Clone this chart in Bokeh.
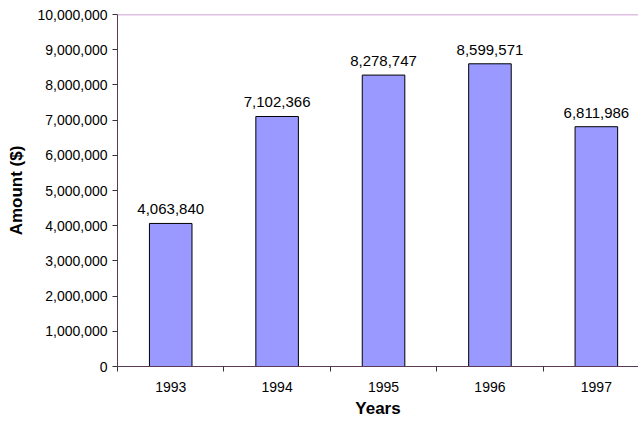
from bokeh.plotting import figure
from bokeh.models import Range1d, FixedTicker, Span, ColumnDataSource, LinearAxis
from bokeh.core.properties import value
from bokeh.embed import file_html
from bokeh.resources import INLINE

# Annual amounts, 1993-1997
years = ["1993", "1994", "1995", "1996", "1997"]
amounts = [4063840, 7102366, 8278747, 8599571, 6811986]
y_ticks = [0, 1000000, 2000000, 3000000, 4000000, 5000000,
           6000000, 7000000, 8000000, 9000000, 10000000]

FONT = "Liberation Sans"

centers = [i + 0.5 for i in range(len(years))]
labels = [f"{a:,}" for a in amounts]
src = ColumnDataSource(dict(x=centers, top=amounts, label=labels))

p = figure(width=638, height=421, output_backend="svg", toolbar_location=None,
           x_range=Range1d(0, 4.896), y_range=Range1d(0, 10000000),
           min_border_left=117, min_border_right=0, min_border_top=14,
           min_border_bottom=55, x_axis_type=None, y_axis_type=None)
p.grid.visible = False
p.outline_line_color = None
p.background_fill_color = "white"
p.border_fill_color = "white"

# y axis
yax = LinearAxis(ticker=FixedTicker(ticks=y_ticks, minor_ticks=[]),
                 major_label_overrides={t: f"{t:,}" for t in y_ticks})
yax.axis_label = "Amount ($)"
yax.axis_label_text_font = FONT
yax.axis_label_text_font_style = "bold"
yax.axis_label_text_font_size = "17px"
yax.axis_label_text_color = "black"
yax.axis_label_standoff = 8
yax.major_label_text_font = FONT
yax.major_label_text_font_size = "14px"
yax.major_label_text_color = "black"
yax.major_label_standoff = 5
yax.major_tick_out = 5
yax.major_tick_in = 0
yax.major_tick_line_color = "#333333"
yax.axis_line_color = "#5a3a5a"
p.add_layout(yax, "left")

# x axis: labels at category centres, tick marks at category boundaries
xax = LinearAxis(ticker=FixedTicker(ticks=centers,
                                    minor_ticks=list(range(len(years) + 1))),
                 major_label_overrides={c: y for c, y in zip(centers, years)})
xax.axis_label = "Years"
xax.axis_label_text_font = FONT
xax.axis_label_text_font_style = "bold"
xax.axis_label_text_font_size = "17px"
xax.axis_label_text_color = "black"
xax.axis_label_standoff = 4
xax.major_label_text_font = FONT
xax.major_label_text_font_size = "14px"
xax.major_label_text_color = "black"
xax.major_label_standoff = 10
xax.major_tick_out = 0
xax.major_tick_in = 0
xax.minor_tick_out = 5
xax.minor_tick_in = 0
xax.minor_tick_line_color = "#333333"
xax.axis_line_color = "#5a3a5a"
p.add_layout(xax, "below")

# top border of the plot area
p.add_layout(Span(location=10000000, dimension="width",
                  line_color="#c080c8", line_width=1.5))

p.vbar(x="x", top="top", width=0.4, bottom=0, source=src,
       fill_color="#9999ff", line_color="black", line_width=1)

p.text(x="x", y="top", text="label", source=src, y_offset=-9,
       text_align="center", text_baseline="bottom",
       text_font=value(FONT), text_font_size="15px", text_color="black")

open("out.html", "w").write(file_html(p, INLINE))
